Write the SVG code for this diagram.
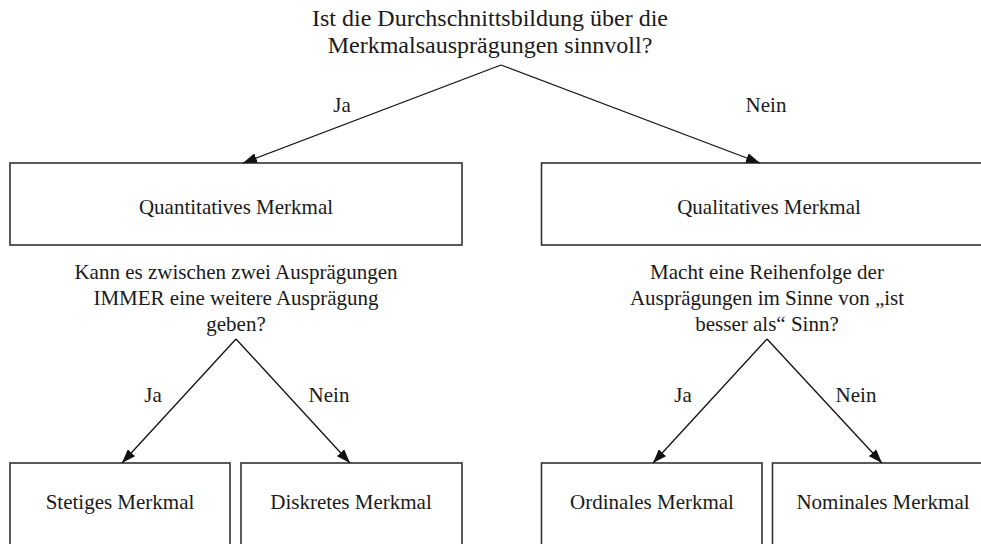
<svg xmlns="http://www.w3.org/2000/svg" width="981" height="544" viewBox="0 0 981 544">
<style>
.l{font-family:'Liberation Serif',serif;font-size:21px;fill:#1a1a1a;text-anchor:middle}
.t{font-size:24px}
.box{fill:#fff;stroke:#333;stroke-width:1.6}
.c{stroke:#111;stroke-width:1.3;fill:none;marker-end:url(#ah)}
</style>
<defs>
<marker id="ah" viewBox="0 0 14 10" refX="14" refY="5" markerWidth="14" markerHeight="10" markerUnits="userSpaceOnUse" orient="auto">
<path d="M0,0 L14,5 L0,10 Z" fill="#111"/>
</marker>
</defs>
<rect width="981" height="544" fill="#fff"/>
<g id="q0">
<text class="l t" font-family="Liberation Serif" x="490" y="26">Ist die Durchschnittsbildung über die</text>
<text class="l t" font-family="Liberation Serif" x="490" y="53">Merkmalsausprägungen sinnvoll?</text>
</g>
<g id="quant">
<rect class="box" x="10" y="163" width="452" height="82"/>
<text class="l" font-family="Liberation Serif" x="236" y="214">Quantitatives Merkmal</text>
</g>
<g id="qual">
<rect class="box" x="541.5" y="163" width="450" height="82"/>
<text class="l" font-family="Liberation Serif" x="769" y="214">Qualitatives Merkmal</text>
</g>
<g id="q1">
<text class="l" font-family="Liberation Serif" x="236" y="279">Kann es zwischen zwei Ausprägungen</text>
<text class="l" font-family="Liberation Serif" x="236" y="305">IMMER eine weitere Ausprägung</text>
<text class="l" font-family="Liberation Serif" x="236" y="331">geben?</text>
</g>
<g id="q2">
<text class="l" font-family="Liberation Serif" x="767" y="279">Macht eine Reihenfolge der</text>
<text class="l" font-family="Liberation Serif" x="767" y="305">Ausprägungen im Sinne von „ist</text>
<text class="l" font-family="Liberation Serif" x="767" y="331">besser als“ Sinn?</text>
</g>
<g id="stetig">
<rect class="box" x="10" y="463" width="220" height="100"/>
<text class="l" font-family="Liberation Serif" x="120" y="509">Stetiges Merkmal</text>
</g>
<g id="diskret">
<rect class="box" x="241" y="463" width="221" height="100"/>
<text class="l" font-family="Liberation Serif" x="351" y="509">Diskretes Merkmal</text>
</g>
<g id="ordinal">
<rect class="box" x="541.5" y="463" width="220.5" height="100"/>
<text class="l" font-family="Liberation Serif" x="652" y="509">Ordinales Merkmal</text>
</g>
<g id="nominal">
<rect class="box" x="772.5" y="463" width="220" height="100"/>
<text class="l" font-family="Liberation Serif" x="883" y="509">Nominales Merkmal</text>
</g>
<g id="connectors">
<line class="c" x1="501" y1="65" x2="243" y2="163"/>
<line class="c" x1="501" y1="65" x2="760" y2="163"/>
<line class="c" x1="236" y1="339" x2="122" y2="463"/>
<line class="c" x1="236" y1="339" x2="350" y2="463"/>
<line class="c" x1="767" y1="339" x2="653" y2="463"/>
<line class="c" x1="767" y1="339" x2="882" y2="463"/>
<text class="l" font-family="Liberation Serif" x="342" y="112">Ja</text>
<text class="l" font-family="Liberation Serif" x="766" y="112">Nein</text>
<text class="l" font-family="Liberation Serif" x="153" y="402">Ja</text>
<text class="l" font-family="Liberation Serif" x="329" y="402">Nein</text>
<text class="l" font-family="Liberation Serif" x="683" y="402">Ja</text>
<text class="l" font-family="Liberation Serif" x="856" y="402">Nein</text>
</g>
</svg>
